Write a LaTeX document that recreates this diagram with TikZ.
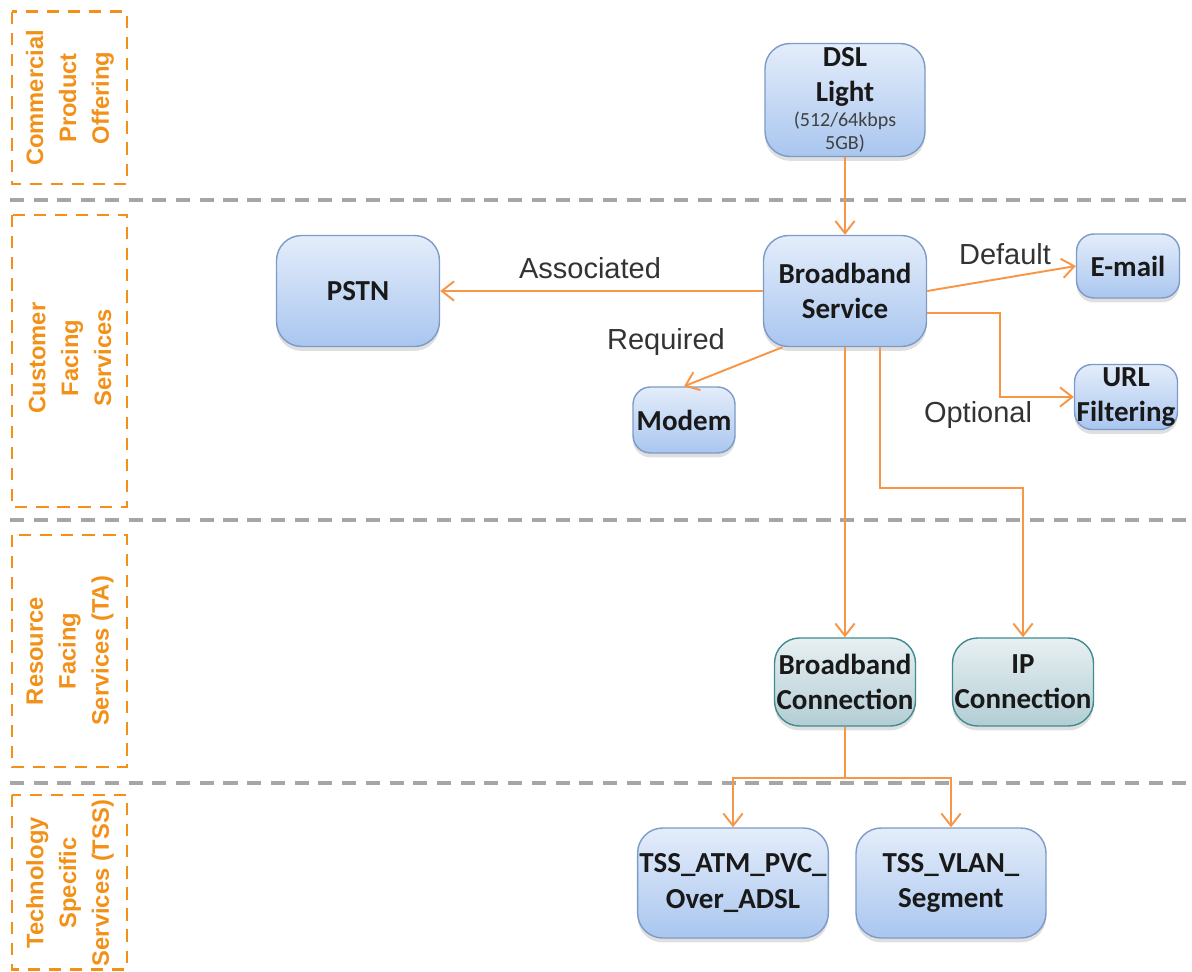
\documentclass[tikz,border=0pt]{standalone}
\usepackage{fontspec}
\setmainfont{Liberation Sans}
\newfontfamily\boxfont{Carlito}
\usetikzlibrary{calc,arrows.meta,shadows}
\definecolor{linkorange}{HTML}{F79646}
\definecolor{layerorange}{HTML}{F29018}
\definecolor{layergray}{HTML}{A6A6A6}
\definecolor{svcborder}{HTML}{7C9BC8}
\definecolor{svctop}{HTML}{E4EDFA}
\definecolor{svcbottom}{HTML}{A9C6EF}
\definecolor{rfsborder}{HTML}{3F8B90}
\definecolor{rfstop}{HTML}{E8F0F2}
\definecolor{rfsbottom}{HTML}{B2CDD4}
\tikzset{layerline/.style={draw=layergray,line width=1.8pt,dash pattern=on 8pt off 5.5pt}}
\tikzset{layerbox/.style={draw=layerorange,line width=1.7pt,dash pattern=on 7pt off 5pt}}
\tikzset{layertext/.style={rotate=90,align=center,text=layerorange,font=\fontsize{13.5}{18.7}\selectfont\bfseries}}
\tikzset{svc/.style={draw=svcborder,line width=0.8pt,top color=svctop,bottom color=svcbottom,rounded corners=0.5cm,
	align=center,inner sep=1pt,text=black!90,font=\boxfont\fontsize{16.5}{20}\selectfont\bfseries,
	drop shadow={shadow xshift=0pt,shadow yshift=-2.5pt,opacity=.25}}}
\tikzset{rfs/.style={svc,draw=rfsborder,top color=rfstop,bottom color=rfsbottom}}
\tikzset{link/.style={draw=linkorange,line width=1.1pt,-{Straight Barb[length=7pt,width=11pt]}}}
\tikzset{linklabel/.style={text=black!80,font=\fontsize{16.5}{20}\selectfont}}
\newcommand{\smalltxt}[1]{{\fontsize{11.4}{14}\selectfont\mdseries\color{black!75}#1}}

\begin{document}
\begin{tikzpicture}[x=0.02cm,y=-0.02cm]
	\useasboundingbox (0,0) rectangle (1192,972);
	% layers
	\draw[layerline] (10,200) -- (1192,200);
	\draw[layerline] (10,520) -- (1192,520);
	\draw[layerline] (10,783) -- (1192,783);
	\draw[layerbox] (12,12) rectangle (127,184);
	\draw[layerbox] (12,215) rectangle (127,507);
	\draw[layerbox] (12,535) rectangle (127,767);
	\draw[layerbox] (12,795) rectangle (127,969);
	\node[layertext] (lcpo) at (70,98) {Commercial\\Product\\Offering};
	\node[layertext] (lcfs) at (70,358) {Customer\\Facing\\Services};
	\node[layertext] (lrfs) at (70,651) {Resource\\Facing\\Services (TA)};
	\node[layertext] (ltss) at (70,883) {Technology\\Specific\\Services (TSS)};

	% services
	\node[svc,minimum width=3.2cm,minimum height=2.26cm] (dsl) at (845,100) {DSL\\Light\\[-6pt]\smalltxt{(512/64kbps}\\[-6.4pt]\smalltxt{5GB)}};
	\node[svc,minimum width=3.26cm,minimum height=2.22cm] (bs) at (845,291) {Broadband\\Service};
	\node[svc,minimum width=3.26cm,minimum height=2.22cm] (pstn) at (358,291) {PSTN};
	\node[svc,rounded corners=0.35cm,minimum width=2.06cm,minimum height=1.28cm] (email) at (1128,266) {E-mail};
	\node[svc,rounded corners=0.35cm,minimum width=2.06cm,minimum height=1.3cm] (url) at (1126,397) {URL\\Filtering};
	\node[svc,rounded corners=0.35cm,minimum width=2.04cm,minimum height=1.32cm] (modem) at (684,420) {Modem};
	\node[rfs,minimum width=2.82cm,minimum height=1.76cm] (bc) at (845,682) {Broadband\\Connection};
	\node[rfs,minimum width=2.82cm,minimum height=1.76cm] (ip) at (1023,682) {IP\\Connection};
	\node[svc,minimum width=3.8cm,minimum height=2.2cm] (tss1) at (733,883) {TSS\_ATM\_PVC\_\\Over\_ADSL};
	\node[svc,minimum width=3.8cm,minimum height=2.2cm] (tss2) at (951,883) {TSS\_VLAN\_\\Segment};

	% links
	\draw[link] (dsl.south) -- (bs.north);
	\draw[link] (bs.west) -- (pstn.east);
	\draw[link] (bs.222) -- (modem.north);
	\draw[link] (bs.east) -- (email.west);
	\draw[link] (bs.-15) -- ++(73,0) |- (url.west);
	\draw[link] (bs.south) -- (bc.north);
	\draw[link] ($(bs.south)+(35,0)$) |- ($(ip.north)+(0,-149)$) -- (ip.north);
	\draw[link] (bc.south) -- ++(0,51) -| (tss1.north);
	\draw[link] (bc.south) -- ++(0,51) -| (tss2.north);
	\node[linklabel] (lassoc) at (590,268) {Associated};
	\node[linklabel] (lreq) at (666,342) {Required};
	\node[linklabel] (ldef) at (1005,254) {Default};
	\node[linklabel] (lopt) at (978,415) {Optional};
\end{tikzpicture}
\end{document}
